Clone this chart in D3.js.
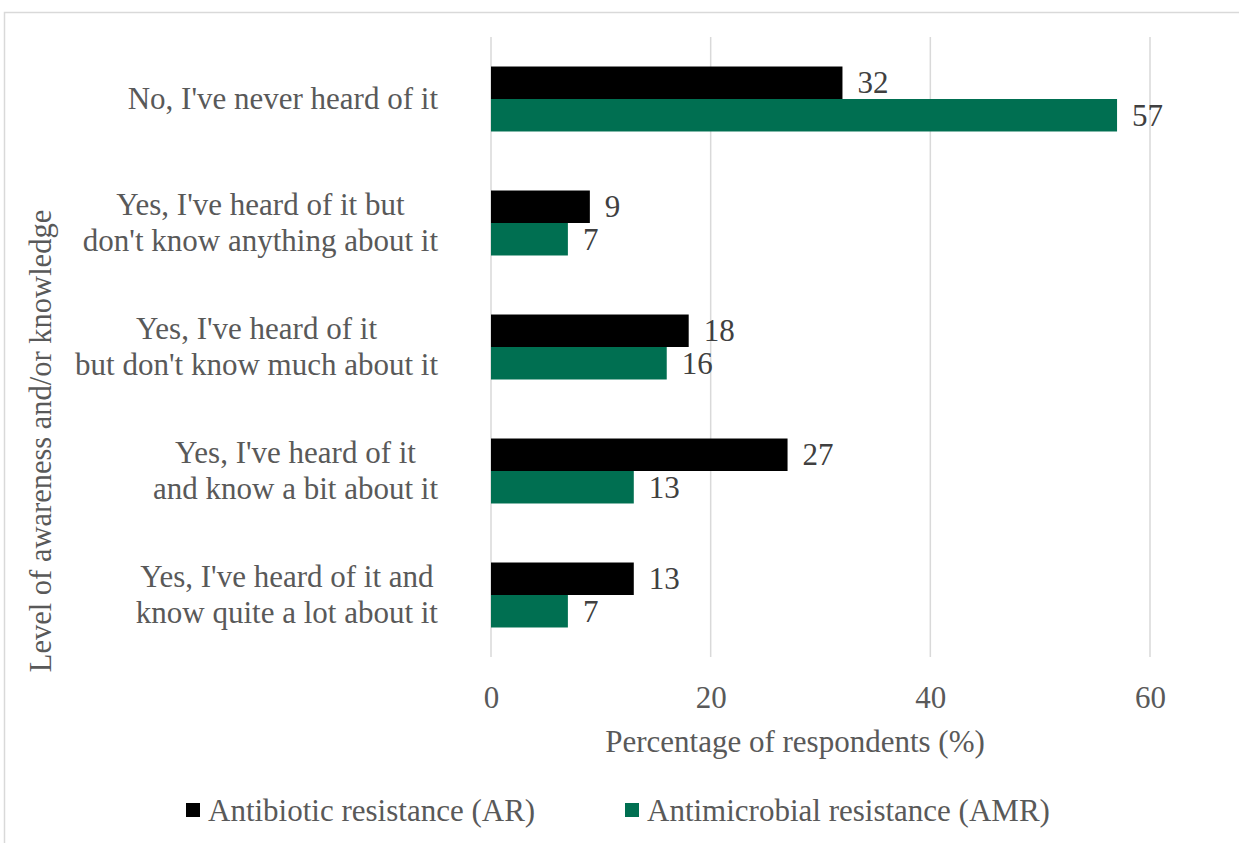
<!DOCTYPE html>
<html>
<head>
<meta charset="utf-8">
<script src="https://cdn.jsdelivr.net/npm/d3@7"></script>
<style>
  html, body { margin: 0; padding: 0; background: #fff; }
  svg { display: block; }
  text { font-family: "Liberation Serif", "Times New Roman", serif; }
</style>
</head>
<body>
<svg id="chart" width="1239" height="843"></svg>
<script>
const categories = [
  "No, I've never heard of it",
  "Yes, I've heard of it but\ndon't know anything about it",
  "Yes, I've heard of it\nbut don't know much about it",
  "Yes, I've heard of it\nand know a bit about it",
  "Yes, I've heard of it and\nknow quite a lot about it"
];
const seriesNames = ["Antibiotic resistance (AR)", "Antimicrobial resistance (AMR)"];
const arValues = [32, 9, 18, 27, 13];
const amrValues = [57, 7, 16, 13, 7];
const xTicks = [0, 20, 40, 60];
const colors = ["#000000", "#006f51"];
const xTitle = "Percentage of respondents (%)";
const yTitle = "Level of awareness and/or knowledge";

const svg = d3.select("#chart");
const textColor = "#595959";
const fs = 31;

// outer chart border
svg.append("rect").attr("x", 4.5).attr("y", 12.5).attr("width", 1300).attr("height", 900)
  .attr("fill", "none").attr("stroke", "#d9d9d9").attr("stroke-width", 1.5);

const plot = { left: 491, right: 1150, top: 37, bottom: 657 };
const x = d3.scaleLinear().domain([0, 60]).range([plot.left, plot.right]);
const y = d3.scaleBand().domain(categories).range([plot.top, plot.bottom])
  .paddingInner(0.476).paddingOuter(0.238);
const ySub = d3.scaleBand().domain([0, 1]).range([0, y.bandwidth()]);

// gridlines
svg.append("g").selectAll("line").data(xTicks).join("line")
  .attr("x1", d => x(d)).attr("x2", d => x(d))
  .attr("y1", plot.top).attr("y2", plot.bottom)
  .attr("stroke", "#d9d9d9").attr("stroke-width", 1.5);

// x axis labels
const xAxis = d3.axisBottom(x).tickValues(xTicks).tickSize(0).tickPadding(0);
const xg = svg.append("g").attr("transform", `translate(0,${plot.bottom})`).call(xAxis);
xg.select(".domain").remove();
xg.attr("font-family", null).attr("font-size", null);
xg.selectAll("text").attr("font-size", fs).attr("fill", textColor)
  .attr("dy", null).attr("y", 51);

// bars
const series = [arValues, amrValues];
series.forEach((vals, si) => {
  const g = svg.append("g");
  g.selectAll("rect").data(vals).join("rect")
    .attr("x", x(0))
    .attr("y", (d, i) => y(categories[i]) + ySub(si))
    .attr("width", d => x(d) - x(0))
    .attr("height", ySub.bandwidth())
    .attr("fill", colors[si]);
  g.selectAll("text").data(vals).join("text")
    .attr("x", d => x(d) + 15)
    .attr("y", (d, i) => y(categories[i]) + ySub(si) + ySub.bandwidth() / 2 + 10.5)
    .attr("font-size", fs).attr("fill", "#404040")
    .text(d => d);
});

// category labels (multi-line, centered lines, block right-aligned)
const labelRight = 438;
const lineH = 36;
categories.forEach(cat => {
  const lines = cat.split("\n");
  const g = svg.append("g");
  const texts = lines.map((ln, i) => g.append("text")
    .attr("font-size", fs).attr("fill", textColor)
    .attr("text-anchor", "middle")
    .text(ln));
  const widths = texts.map(t => t.node().getComputedTextLength());
  const maxW = d3.max(widths);
  const cx = labelRight - maxW / 2;
  const cy = y(cat) + y.bandwidth() / 2;
  const firstBaseline = cy + 10 - (lines.length - 1) * lineH / 2;
  texts.forEach((t, i) => t.attr("x", cx).attr("y", firstBaseline + i * lineH));
});

// axis titles
svg.append("text").attr("x", 795).attr("y", 752).attr("text-anchor", "middle")
  .attr("font-size", fs).attr("fill", textColor).text(xTitle);
svg.append("text").attr("transform", "translate(51,441) rotate(-90)")
  .attr("text-anchor", "middle").attr("font-size", 30.5).attr("fill", textColor).text(yTitle);

// legend
const legendX = [186, 625];
seriesNames.forEach((name, i) => {
  svg.append("rect").attr("x", legendX[i]).attr("y", 803).attr("width", 14).attr("height", 14)
    .attr("fill", colors[i]);
  svg.append("text").attr("x", legendX[i] + 22).attr("y", 821)
    .attr("font-size", fs).attr("fill", textColor).text(name);
});
</script>
</body>
</html>
